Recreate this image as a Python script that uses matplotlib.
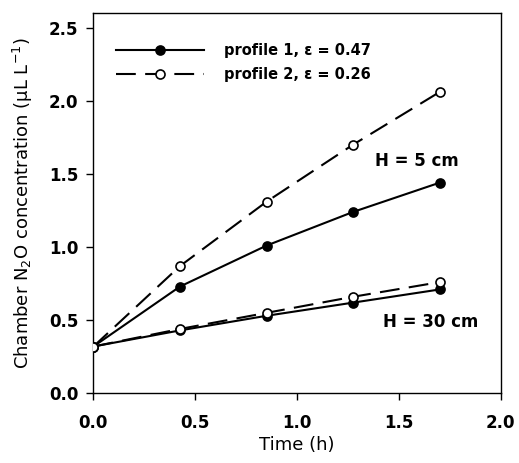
import matplotlib
matplotlib.use('Agg')
import matplotlib.pyplot as plt
import numpy as np

plt.rcParams['font.family'] = ['DejaVu Sans']
plt.rcParams['mathtext.fontset'] = 'dejavusans'

# Data
time_h = [0.0, 0.425, 0.85, 1.275, 1.70]
p1_h5 = [0.32, 0.73, 1.01, 1.24, 1.44]
p2_h5 = [0.32, 0.87, 1.31, 1.70, 2.06]
p1_h30 = [0.32, 0.43, 0.53, 0.62, 0.71]
p2_h30 = [0.32, 0.44, 0.55, 0.66, 0.76]

labels = ['profile 1, ε = 0.47', 'profile 2, ε = 0.26']
xticks = [0.0, 0.5, 1.0, 1.5, 2.0]
yticks = [0.0, 0.5, 1.0, 1.5, 2.0, 2.5]

fig = plt.figure(figsize=(5.19, 4.63), dpi=100)
ax = fig.add_axes([0.18, 0.1505, 0.785, 0.8215])

dash = (0, (9.5, 4.5))
lw = 1.5
ms = 6.5

ax.plot(time_h, p1_h5, '-', color='black', lw=lw, marker='o', ms=ms,
        mfc='black', mec='black', mew=1.2, label=labels[0], zorder=3)
ax.plot(time_h, p2_h5, linestyle=dash, color='black', lw=lw, marker='o', ms=ms,
        mfc='white', mec='black', mew=1.2, label=labels[1], zorder=3)
ax.plot(time_h, p1_h30, '-', color='black', lw=lw, marker='o', ms=ms,
        mfc='black', mec='black', mew=1.2, zorder=3)
ax.plot(time_h, p2_h30, linestyle=dash, color='black', lw=lw, marker='o', ms=ms,
        mfc='white', mec='black', mew=1.2, zorder=4)

ax.text(1.38, 1.59, 'H = 5 cm', fontsize=12, fontweight='bold', va='center', ha='left')
ax.text(1.42, 0.486, 'H = 30 cm', fontsize=12, fontweight='bold', va='center', ha='left')

ax.set_xlim(0, 2.0)
ax.set_ylim(0, 2.6)
ax.set_xticks(xticks)
ax.set_yticks(yticks)
ax.set_xticklabels([f'{v:.1f}' for v in xticks], fontweight='bold', fontsize=12)
ax.set_yticklabels([f'{v:.1f}' for v in yticks], fontweight='bold', fontsize=12)
ax.tick_params(direction='out', length=5, width=1)
ax.tick_params(axis='x', pad=10)
ax.tick_params(axis='y', pad=6)
for s in ax.spines.values():
    s.set_linewidth(1)

ax.set_xlabel('Time (h)', fontsize=13, labelpad=3)
ax.set_ylabel('Chamber N$_2$O concentration (μL L$^{-1}$)', fontsize=13, labelpad=10)

leg = ax.legend(loc='upper left', bbox_to_anchor=(0.056, 0.922), frameon=False,
                handlelength=6, prop={'weight': 'bold', 'size': 10.5},
                labelspacing=0.65, handletextpad=1.37, borderaxespad=0, borderpad=0)

fig.savefig('out.png', dpi=100)
